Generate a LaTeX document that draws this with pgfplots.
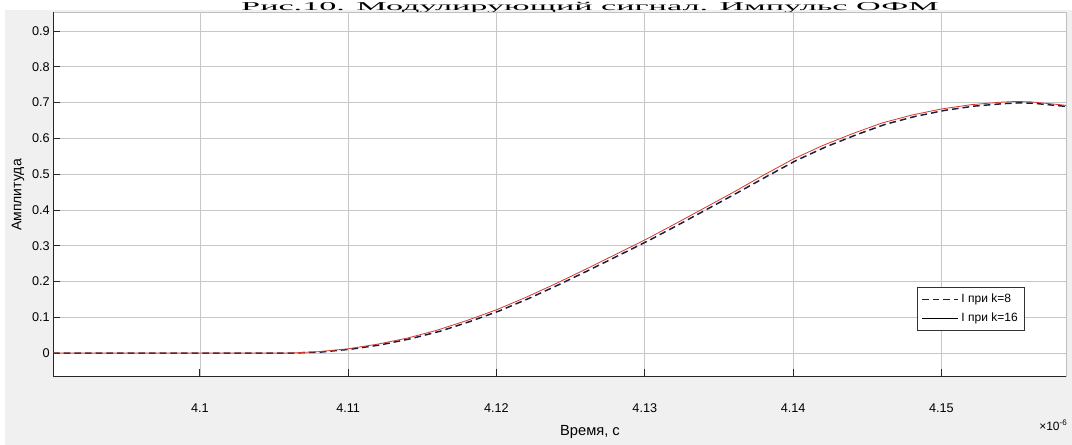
\documentclass[border=0pt]{standalone}
\usepackage{fontspec}
\setmainfont{Liberation Sans}
\newfontfamily\titlefont{Liberation Serif}
\usepackage{pgfplots}
\pgfplotsset{compat=1.18}
\definecolor{figbg}{HTML}{F0F0F0}
\definecolor{dashc}{HTML}{1C1C3C}
\definecolor{redc}{HTML}{D23A2A}

\pgfplotstableread{
t y
4.0901 0
4.1000 0
4.1060 0
4.1080 0.004
4.1100 0.012
4.1120 0.025
4.1140 0.042
4.1160 0.064
4.1180 0.091
4.1200 0.121
4.1220 0.156
4.1240 0.194
4.1260 0.234
4.1280 0.275
4.1300 0.316
4.1320 0.360
4.1340 0.405
4.1360 0.450
4.1380 0.497
4.1400 0.542
4.1420 0.580
4.1440 0.613
4.1460 0.643
4.1480 0.665
4.1500 0.682
4.1520 0.694
4.1540 0.701
4.1550 0.703
4.1560 0.702
4.1580 0.694
4.1584 0.692
}\kSixteen

\pgfplotstableread{
t y
4.0901 0
4.1000 0
4.1062 0
4.1082 0.003
4.1102 0.011
4.1122 0.023
4.1142 0.040
4.1162 0.061
4.1182 0.088
4.1202 0.118
4.1222 0.153
4.1242 0.191
4.1262 0.231
4.1282 0.272
4.1302 0.313
4.1322 0.357
4.1342 0.402
4.1362 0.447
4.1382 0.493
4.1402 0.538
4.1422 0.576
4.1442 0.609
4.1462 0.639
4.1482 0.661
4.1502 0.678
4.1522 0.690
4.1542 0.697
4.1552 0.699
4.1562 0.698
4.1582 0.690
4.1584 0.689
}\kEight

\begin{document}
\begin{tikzpicture}[x=1pt,y=1pt]
\useasboundingbox (0,0) rectangle (804,333.75);
\fill[figbg] (3.75,0) rectangle (804,326.5);
\node[anchor=base, inner sep=0pt, font=\titlefont\fontsize{9}{9}\selectfont] at (442.5,326.2) {\scalebox{2.85}[1]{Рис.10. Модулирующий сигнал. Импульс ОФМ}};

\begin{axis}[
  at={(39.75pt,51.75pt)}, anchor=south west,
  scale only axis, width=759.75pt, height=273pt,
  xmin=4.0901, xmax=4.1584, ymin=-0.064, ymax=0.953,
  axis x line*=bottom, axis y line*=left,
  axis line style={black!85, line width=0.6pt},
  axis background/.style={fill=white, draw=black!25},
  xtick={4.1,4.11,4.12,4.13,4.14,4.15},
  xticklabels={4.1,4.11,4.12,4.13,4.14,4.15},
  ytick={0,0.1,0.2,0.3,0.4,0.5,0.6,0.7,0.8,0.9},
  yticklabels={0,0.1,0.2,0.3,0.4,0.5,0.6,0.7,0.8,0.9},
  tick align=inside, major tick length=5pt,
  tick style={black!85, line width=0.6pt},
  grid=major, grid style={black!22, line width=0.5pt},
  ticklabel style={font=\fontsize{9.5}{10}\selectfont},
  xticklabel style={yshift=-17pt},
  yticklabel style={xshift=1pt},
  legend style={at={(0.853,0.2445)}, anchor=north west, draw=black!80, fill=white,
    font=\fontsize{9}{10}\selectfont, inner sep=3pt, row sep=2pt, cells={anchor=west}},
  legend image code/.code={\draw[#1] (0pt,0pt) -- (27pt,0pt);},
]
\addplot[dashc, line width=1.1pt, dash pattern=on 5pt off 3pt] table[x=t,y=y] {\kEight};
\addlegendentry{I при k=8}
\addplot[redc, line width=0.6pt, forget plot] table[x=t,y=y] {\kSixteen};
\addlegendimage{black, line width=0.6pt}
\addlegendentry{I при k=16}
\end{axis}

\node[rotate=90, font=\fontsize{10.5}{11}\selectfont] at (13.5,187.5) {Амплитуда};
\node[font=\fontsize{11}{12}\selectfont] at (442.5,9.75) {Время, с};
\node[font=\fontsize{9}{10}\selectfont] at (790,15) {×10\textsuperscript{-6}};
\end{tikzpicture}
\end{document}
